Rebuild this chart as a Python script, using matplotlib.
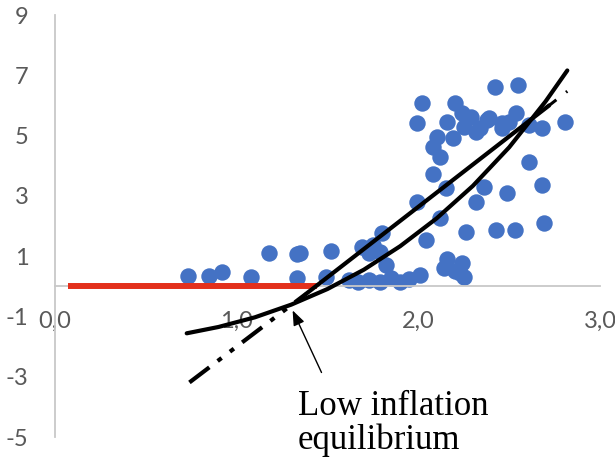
import matplotlib.pyplot as plt
import numpy as np

plt.rcParams["axes.unicode_minus"] = False

# ------------------------------------------------------------
# Data
# ------------------------------------------------------------
scatter_x = [0.73, 0.85, 0.92, 1.08, 1.18, 1.33, 1.35, 1.33, 1.52, 1.49,
             1.69, 1.75, 1.80, 1.73, 1.79, 1.82,
             1.62, 1.67, 1.73, 1.79, 1.85, 1.90, 1.95, 2.01,
             2.04, 1.99, 2.12, 2.08, 2.15, 2.26, 2.36, 2.32, 2.49, 2.43,
             2.53, 2.69, 2.68, 2.61,
             2.16, 2.14, 2.24, 2.25, 2.20, 2.23,
             2.02, 1.99, 2.20, 2.16, 2.24, 2.29, 2.32, 2.25, 2.38, 2.42,
             2.55, 2.10, 2.19, 2.08, 2.12,
             2.46, 2.39, 2.34, 2.46, 2.54, 2.50, 2.61, 2.68, 2.81]
scatter_y = [0.33, 0.35, 0.47, 0.30, 1.10, 1.08, 1.12, 0.27, 1.16, 0.30,
             1.30, 1.36, 1.76, 1.10, 1.13, 0.70,
             0.20, 0.13, 0.20, 0.13, 0.27, 0.13, 0.23, 0.37,
             1.53, 2.79, 2.26, 3.74, 3.26, 1.79, 3.29, 2.79, 3.09, 1.86,
             1.86, 2.09, 3.36, 4.12,
             0.90, 0.60, 0.76, 0.30, 0.50, 0.43,
             6.08, 5.41, 6.08, 5.45, 5.75, 5.61, 5.12, 5.28, 5.51, 6.61,
             6.68, 4.95, 4.92, 4.62, 4.29,
             5.41, 5.58, 5.25, 5.25, 5.75, 5.45, 5.35, 5.25, 5.45]

# curved (solid) trend line
curve_x = [0.725, 0.90, 1.10, 1.30, 1.50, 1.70, 1.90, 2.10, 2.30, 2.50, 2.70, 2.82]
curve_y = [-1.56, -1.35, -1.03, -0.61, -0.09, 0.55, 1.33, 2.25, 3.33, 4.61, 6.13, 7.16]

# straight trend line: dash-dot start, solid middle, dash-dot end
line_start_x = [0.74, 1.38]
line_start_y = [-3.19, -0.26]
line_mid_x = [1.38, 2.72]
line_mid_y = [-0.26, 6.00]
line_end_x = [2.72, 2.82]
line_end_y = [6.00, 6.47]

# red horizontal segment
red_x = [0.07, 1.44]
red_y = [0.0, 0.0]

x_ticks = [0, 1, 2, 3]
x_labels = ["0,0", "1,0", "2,0", "3,0"]
y_ticks = [-5, -3, -1, 1, 3, 5, 7, 9]

# ------------------------------------------------------------
# Figure
# ------------------------------------------------------------
fig = plt.figure(figsize=(6.15, 4.66), dpi=100)
ax = fig.add_axes([55 / 615, 29 / 466, 545 / 615, 422 / 466])

ax.scatter(scatter_x, scatter_y, s=140, color="#4472C4", zorder=2,
           linewidths=0)

ax.plot(red_x, red_y, color="#E3301C", linewidth=4.3,
        solid_capstyle="butt", zorder=3)

ax.plot(curve_x, curve_y, color="black", linewidth=3.0, zorder=4,
        solid_capstyle="round", solid_joinstyle="round")

dashdot = (0, (6, 2.5, 1.2, 2.5, 1.2, 2.5))
ax.plot(line_start_x, line_start_y, color="black", linewidth=3.0,
        linestyle=dashdot, zorder=4)
ax.plot(line_mid_x, line_mid_y, color="black", linewidth=3.0, zorder=4,
        solid_capstyle="round")
ax.plot(line_end_x, line_end_y, color="black", linewidth=2.2,
        linestyle=(0, (3, 4, 1.2, 3)), zorder=4)

# annotation
ax.annotate("", xy=(1.308, -0.80), xytext=(1.467, -2.86),
            arrowprops=dict(arrowstyle="-|>,head_length=0.9,head_width=0.35",
                            color="black", lw=1.0, shrinkA=0, shrinkB=0),
            zorder=5)
ax.text(1.335, -3.45, "Low inflation\nequilibrium", family="Liberation Serif",
        fontsize=25, color="black", ha="left", va="top", linespacing=1.0)

# ------------------------------------------------------------
# Axes formatting
# ------------------------------------------------------------
ax.set_xlim(0, 3)
ax.set_ylim(-5, 9)

for s in ["top", "right"]:
    ax.spines[s].set_visible(False)
ax.spines["bottom"].set_position(("data", 0))
ax.spines["left"].set_position(("data", 0))
ax.spines["bottom"].set_color("#C8C8C8")
ax.spines["left"].set_color("#C8C8C8")
ax.spines["bottom"].set_linewidth(1.3)
ax.spines["left"].set_linewidth(1.3)

ax.set_xticks(x_ticks)
ax.set_xticklabels(x_labels)
ax.set_yticks(y_ticks)
ax.tick_params(axis="both", length=0, labelsize=17, labelcolor="#595959")
for lbl in ax.get_xticklabels() + ax.get_yticklabels():
    lbl.set_family("Lato")
ax.tick_params(axis="x", pad=18)
ax.tick_params(axis="y", pad=19)

plt.savefig("out.png", dpi=100)
